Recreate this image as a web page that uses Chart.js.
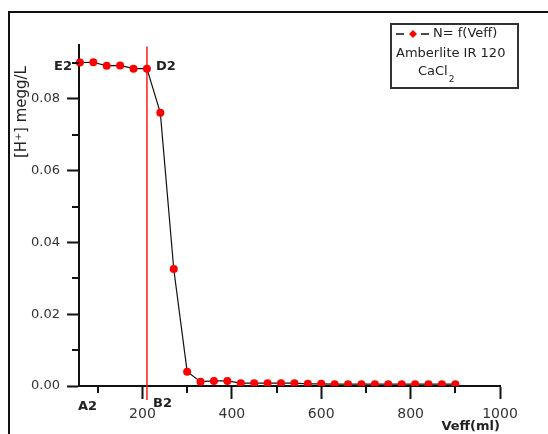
<!DOCTYPE html>
<html>
<head>
<meta charset="utf-8">
<script src="https://cdn.jsdelivr.net/npm/chart.js@4/dist/chart.umd.min.js"></script>
<style>
  body { margin: 0; background: #fff; }
  #wrap { position: relative; width: 548px; height: 434px; overflow: hidden; }
  #frame { position: absolute; left: 8px; top: 11px; width: 560px; height: 440px;
           border-left: 2px solid #111; border-top: 2px solid #111; }
  canvas { position: absolute; left: 0; top: 0; }
</style>
</head>
<body>
<div id="wrap">
  <div id="frame"></div>
  <canvas id="chart" width="548" height="434"></canvas>
</div>
<script>
// Veff (ml) and [H+] (meqg/L)
const vEff = [60, 90, 120, 150, 180, 210, 240, 270, 300, 330, 360, 390, 420, 450, 480,
              510, 540, 570, 600, 630, 660, 690, 720, 750, 780, 810, 840, 870, 900];
const hConc = [0.0901, 0.0902, 0.0892, 0.0893, 0.0884, 0.0884, 0.0761, 0.0326, 0.0040, 0.0012,
               0.0014, 0.0014, 0.0008, 0.0008, 0.0008, 0.0008, 0.0008, 0.0006, 0.0006, 0.0005,
               0.0005, 0.0005, 0.0005, 0.0005, 0.0005, 0.0005, 0.0005, 0.0005, 0.0005];

// red vertical marker at the breakthrough volume
const breakX = [210, 210];
const breakY = [0.0946, -0.0039];

const xMinorTicks = [100, 300, 500, 700, 900];
const yMinorTicks = [0.01, 0.03, 0.05, 0.07, 0.09];

const FONT = 'DejaVu Sans';
const INK = '#222';

const decor = {
    id: 'decor',
    afterDraw(chart) {
        const ctx = chart.ctx;
        const x = chart.scales.x, y = chart.scales.y;
        const area = chart.chartArea;
        ctx.save();

        // minor ticks
        ctx.strokeStyle = '#111';
        ctx.lineWidth = 2;
        ctx.beginPath();
        xMinorTicks.forEach(v => {
            const px = Math.round(x.getPixelForValue(v));
            ctx.moveTo(px, area.bottom);
            ctx.lineTo(px, area.bottom + 7);
        });
        yMinorTicks.forEach(v => {
            const py = Math.round(y.getPixelForValue(v));
            ctx.moveTo(area.left, py);
            ctx.lineTo(area.left - 7, py);
        });
        ctx.stroke();

        // point labels
        ctx.fillStyle = INK;
        ctx.font = 'bold 13px "' + FONT + '"';
        ctx.textBaseline = 'middle';
        ctx.textAlign = 'right';
        ctx.fillText('E2', 72, 67);
        ctx.textAlign = 'left';
        ctx.fillText('D2', 156, 67);
        ctx.fillText('A2', 78, 407);
        ctx.fillText('B2', 153, 404);

        // y title
        ctx.save();
        ctx.translate(22, 112);
        ctx.rotate(-Math.PI / 2);
        ctx.textAlign = 'center';
        ctx.font = '15px "' + FONT + '"';
        ctx.fillText('[H⁺] megg/L', 0, 0);
        ctx.restore();

        // legend box
        ctx.strokeStyle = '#333';
        ctx.lineWidth = 2;
        ctx.strokeRect(391, 24, 127, 64);
        ctx.strokeStyle = '#111';
        ctx.lineWidth = 1.5;
        ctx.beginPath();
        ctx.moveTo(396, 34); ctx.lineTo(404, 34);
        ctx.moveTo(421, 34); ctx.lineTo(429, 34);
        ctx.stroke();
        ctx.fillStyle = '#ff0000';
        ctx.beginPath();
        ctx.moveTo(413, 30); ctx.lineTo(417, 34); ctx.lineTo(413, 38); ctx.lineTo(409, 34);
        ctx.closePath();
        ctx.fill();
        ctx.fillStyle = INK;
        ctx.font = '13px "' + FONT + '"';
        ctx.textAlign = 'left';
        ctx.fillText('N= f(Veff)', 433, 34);
        ctx.fillText('Amberlite IR 120', 396, 54);
        ctx.fillText('CaCl', 418, 72);
        const w = ctx.measureText('CaCl').width;
        ctx.font = '9px "' + FONT + '"';
        ctx.fillText('2', 418 + w + 1, 80);

        ctx.restore();
    }
};

new Chart(document.getElementById('chart'), {
    type: 'line',
    data: {
        datasets: [{
            label: 'N= f(Veff)',
            data: vEff.map((v, i) => ({ x: v, y: hConc[i] })),
            borderColor: '#111',
            borderWidth: 1.2,
            pointRadius: 4,
            pointHoverRadius: 4,
            pointBackgroundColor: '#ff0000',
            pointBorderWidth: 0,
            tension: 0,
            clip: { left: 10, top: 10, right: 10, bottom: 0 }
        }, {
            label: 'break',
            data: breakX.map((v, i) => ({ x: v, y: breakY[i] })),
            borderColor: '#ff1a1a',
            borderWidth: 1.5,
            pointRadius: 0,
            clip: false
        }]
    },
    options: {
        responsive: false,
        animation: false,
        events: [],
        layout: { padding: { top: 45, right: 48, left: 0, bottom: 0 } },
        scales: {
            x: {
                type: 'linear',
                min: 58,
                max: 1000,
                afterFit: s => { s.height = 48; },
                border: { color: '#111', width: 2 },
                grid: { drawOnChartArea: false, tickLength: 13, tickWidth: 2, tickColor: '#111' },
                ticks: {
                    stepSize: 200,
                    includeBounds: false,
                    padding: 7,
                    color: '#333',
                    font: { family: FONT, size: 14 },
                    callback: v => String(v)
                },
                title: {
                    display: true,
                    text: 'Veff(ml)',
                    align: 'end',
                    color: INK,
                    padding: 0,
                    font: { family: FONT, size: 13, weight: 'bold' }
                }
            },
            y: {
                min: 0,
                max: 0.095,
                afterFit: s => { s.width = 79; },
                border: { color: '#111', width: 2 },
                grid: { drawOnChartArea: false, tickLength: 12, tickWidth: 2, tickColor: '#111' },
                ticks: {
                    stepSize: 0.02,
                    includeBounds: false,
                    padding: 7,
                    color: '#333',
                    font: { family: FONT, size: 13 },
                    callback: v => v.toFixed(2)
                }
            }
        },
        plugins: {
            legend: { display: false },
            tooltip: { enabled: false }
        }
    },
    plugins: [decor]
});
</script>
</body>
</html>
